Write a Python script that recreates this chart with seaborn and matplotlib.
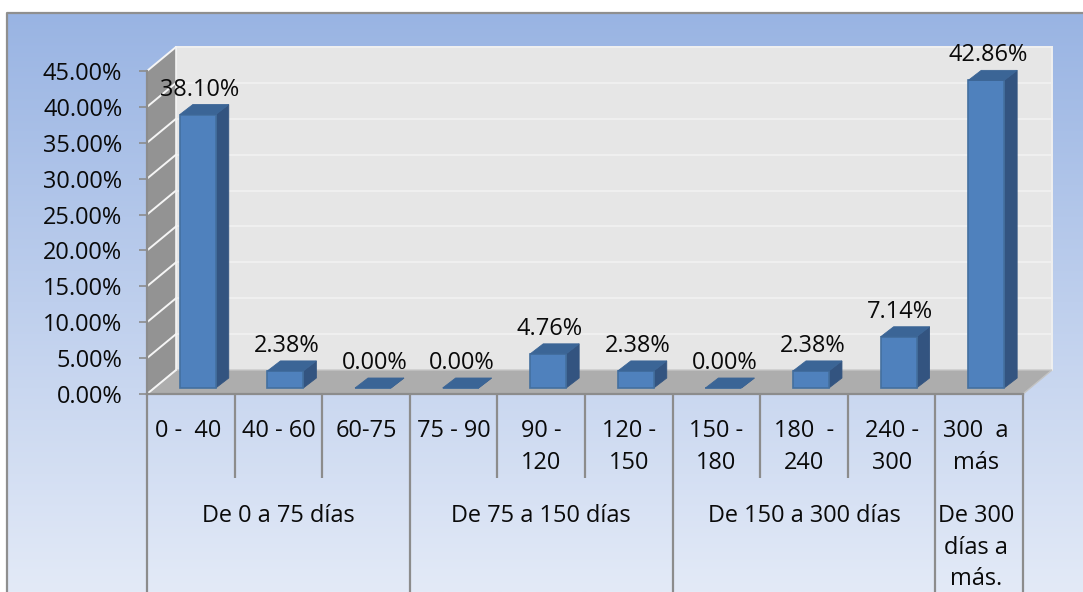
import numpy as np
import pandas as pd
import seaborn as sns
import matplotlib.pyplot as plt
from matplotlib.colors import LinearSegmentedColormap
from matplotlib.patches import Polygon
from matplotlib.transforms import Affine2D

# Data
ranges = ["0 -  40 ", "40 - 60", "60-75", "75 - 90", "90 -\n120", "120 -\n150",
          "150 -\n180", "180  -\n240", "240 -\n300", "300  a \nmás "]
values = [38.10, 2.38, 0.00, 0.00, 4.76, 2.38, 0.00, 2.38, 7.14, 42.86]
groups = ["De 0 a 75 días", "De 75 a 150 días", "De 150 a 300 días", "De 300 \ndías a \nmás. "]
group_sizes = [3, 3, 3, 1]
y_ticks = [0, 5, 10, 15, 20, 25, 30, 35, 40, 45]

sns.set_style("white")
plt.rcParams["font.family"] = ["Open Sans", "DejaVu Sans"]
FS = 16.9
LS = 1.42
TXT = "#0a0a0a"
LINE = "#8c8c8c"

W, H = 1083, 592
fig = plt.figure(figsize=(W / 100, H / 100), dpi=100, facecolor="white")

# Chart area background gradient
bg = fig.add_axes([0, 0, 1, 1], zorder=0)
cmap = LinearSegmentedColormap.from_list("bg", ["#99b4e3", "#e3eaf7"])
bg.imshow(np.linspace(0, 1, 256).reshape(-1, 1), cmap=cmap, aspect="auto", extent=(7, W, H, 13))
bg.set_xlim(0, W)
bg.set_ylim(H, 0)
bg.axis("off")
bg.plot([7, 7, W], [H, 13, 13], color="#8f8f8f", lw=1.6)

# Front plane of the 3D box
ax = fig.add_axes([147 / W, (H - 394) / H, 876 / W, 323 / H], zorder=1)
ax.patch.set_alpha(0)

df = pd.DataFrame({"range": ranges, "value": values})
sns.barplot(data=df, x="range", y="value", color="#4f81bd", saturation=1, width=0.41,
            edgecolor="#44709f", linewidth=1.2, ax=ax, zorder=5)
bars = list(ax.patches)

ax.set_xlim(-0.5, 9.5)
ax.set_ylim(0, 45)
px_x = 10 / 876
px_y = 45 / 323


def shifted(dx, dy):
    return ax.transData + Affine2D().translate(dx, dy)


# Walls and floor
dx_wall, dy_wall = 29 * px_x, 24 * px_y
ax.add_patch(Polygon([(-0.5 + dx_wall, dy_wall), (9.5 + dx_wall, dy_wall), (9.5 + dx_wall, 45 + dy_wall),
                      (-0.5 + dx_wall, 45 + dy_wall)], fc="#e6e6e6", ec="#f0f0f0", lw=1.4, clip_on=False, zorder=1))
ax.add_patch(Polygon([(-0.5, 0), (-0.5 + dx_wall, dy_wall), (-0.5 + dx_wall, 45 + dy_wall), (-0.5, 45)],
                     fc="#939393", ec="none", clip_on=False, zorder=1))
ax.add_patch(Polygon([(-0.5, 0), (-0.5 + dx_wall, dy_wall), (9.5 + dx_wall, dy_wall), (9.5, 0)],
                     fc="#adadad", ec="#c4c4c4", lw=1, clip_on=False, zorder=2))
ax.plot([-0.5 + dx_wall, -0.5 + dx_wall], [dy_wall, 45 + dy_wall], color="#f3f3f3", lw=1.2, clip_on=False, zorder=2)
for t in y_ticks[1:]:
    ax.plot([-0.5 + dx_wall, 9.5 + dx_wall], [t + dy_wall, t + dy_wall], color="#f0f0f0", lw=1.4,
            clip_on=False, zorder=2)
    ax.plot([-0.5, -0.5 + dx_wall], [t, t + dy_wall], color="#f5f5f5", lw=1.4, clip_on=False, zorder=3)
ax.plot([-0.5, -0.5 + dx_wall], [0, dy_wall], color="#f5f5f5", lw=1.4, clip_on=False, zorder=3)

# Bars sit a little behind the front plane, with side and top faces
dx_bar, dy_bar = 13 * px_x, 10 * px_y
bar_shift = shifted(7, 6)
for bar, val in zip(bars, values):
    bar.set_transform(bar_shift)
    bar.set_clip_on(False)
    x0, w, h = bar.get_x(), bar.get_width(), bar.get_height()
    x1 = x0 + w
    ax.add_patch(Polygon([(x1, 0), (x1 + dx_bar, dy_bar), (x1 + dx_bar, h + dy_bar), (x1, h)], fc="#335480",
                         ec="#335480", lw=0.6, transform=bar_shift, clip_on=False, zorder=4))
    ax.add_patch(Polygon([(x0, h), (x0 + dx_bar, h + dy_bar), (x1 + dx_bar, h + dy_bar), (x1, h)], fc="#3b6596",
                         ec="#3b6596", lw=0.6, transform=bar_shift, clip_on=False, zorder=6))
    ax.text(x0 + w / 2, val, f"{val:.2f}%", transform=shifted(8.5, 31), ha="center", va="center",
            fontsize=FS, color=TXT, clip_on=False, zorder=7)

# Axes
sns.despine(ax=ax, top=True, right=True)
for side in ["left", "bottom"]:
    ax.spines[side].set_color(LINE)
    ax.spines[side].set_linewidth(1.6)
    ax.spines[side].set_zorder(8)
ax.set_xlabel("")
ax.set_ylabel("")
ax.set_yticks(y_ticks)
ax.set_yticklabels([f"{t:.2f}%" for t in y_ticks], fontsize=FS, color=TXT)
for lbl in ax.get_yticklabels():
    lbl.set_transform(lbl.get_transform() + Affine2D().translate(0, -1))
ax.tick_params(axis="y", left=True, length=5.8, width=1.2, color=LINE, pad=12)
ax.tick_params(axis="x", bottom=False, pad=14.5)
ax.set_xticks(range(len(ranges)))
ax.set_xticklabels(ranges, fontsize=FS, color=TXT, linespacing=LS, va="top")

# Multi-level category axis
y_low = -84 * px_y
y_bottom = -198 * px_y
ax.vlines(np.arange(0, 11) - 0.5, y_low, 0, color=LINE, lw=1.6, clip_on=False, zorder=8)
edges = np.cumsum([0] + group_sizes) - 0.5
ax.vlines(edges, y_bottom, y_low, color=LINE, lw=1.6, clip_on=False, zorder=8)
for name, left, right in zip(groups, edges[:-1], edges[1:]):
    ax.text((left + right) / 2, -110 * px_y, name, ha="center", va="top", fontsize=FS, color=TXT,
            linespacing=LS, clip_on=False)

fig.savefig("out.png", dpi=100)
